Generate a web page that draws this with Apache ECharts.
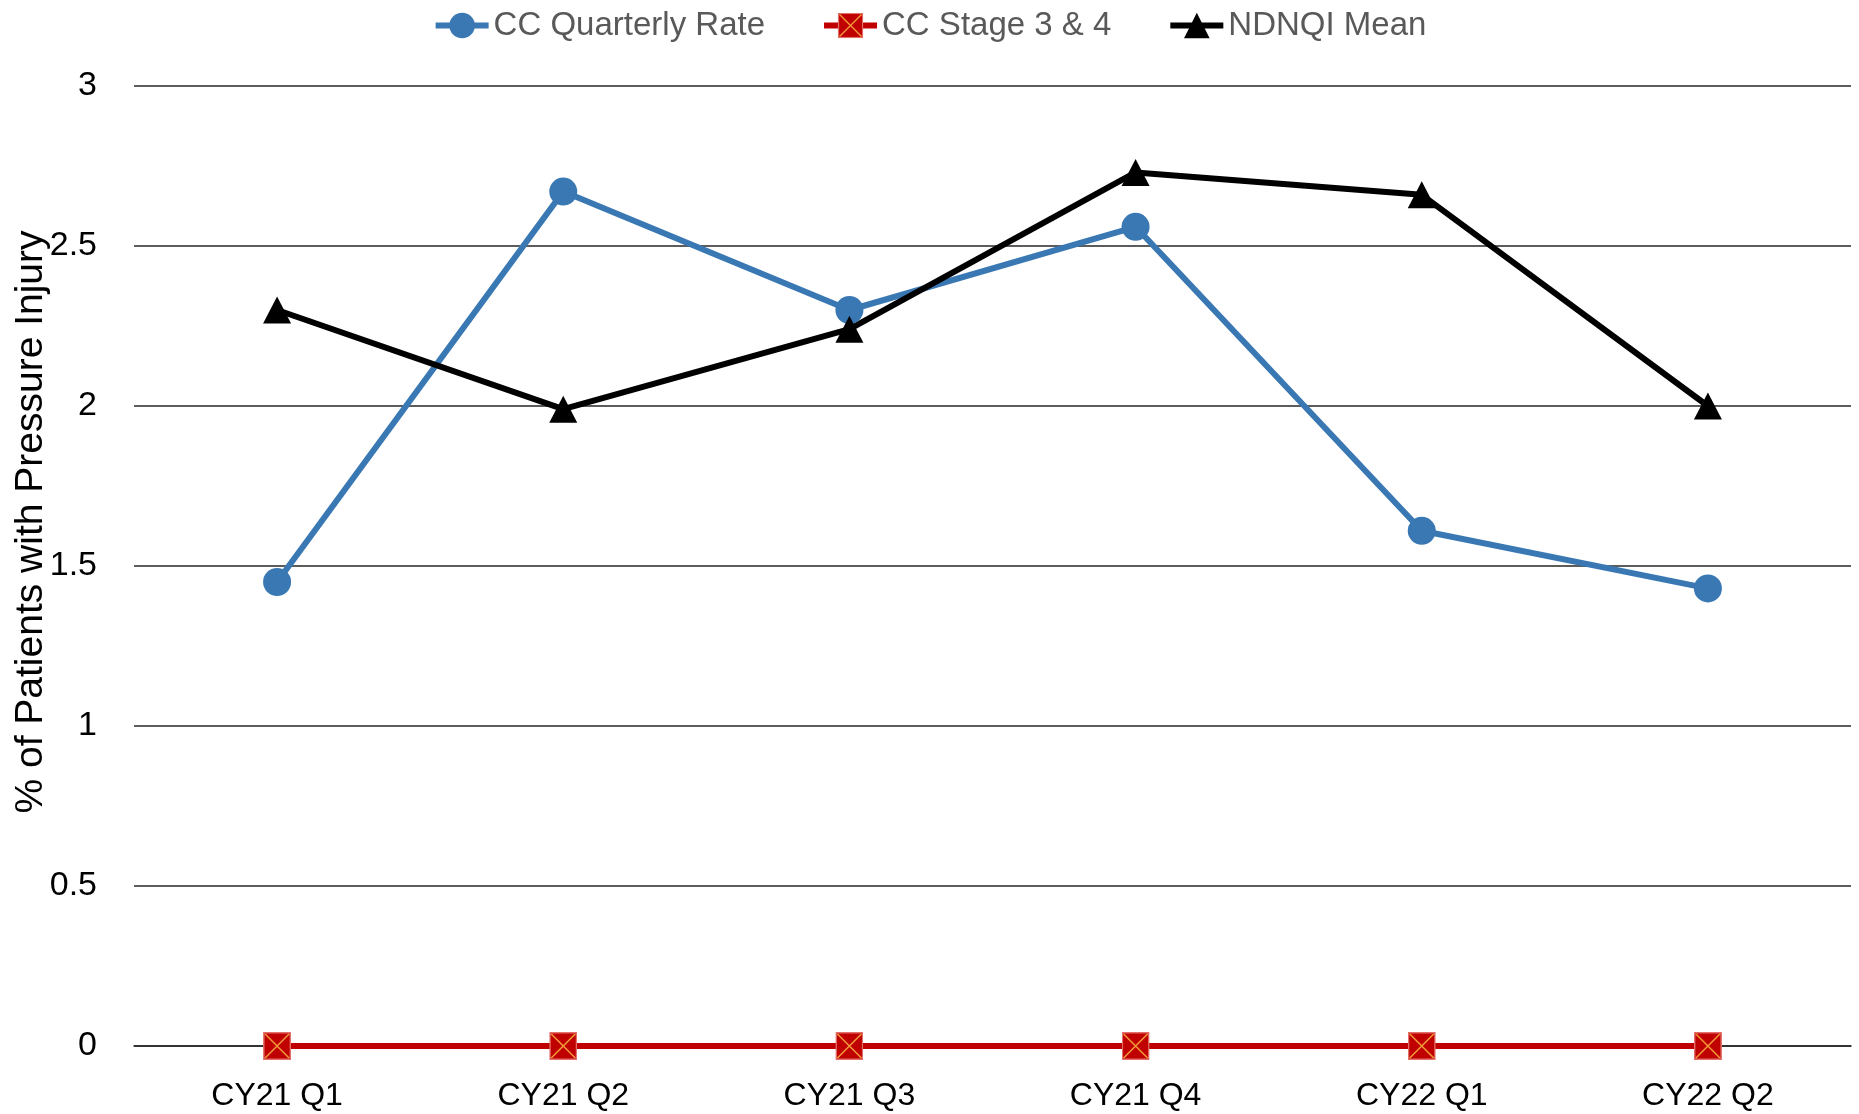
<!DOCTYPE html>
<html>
<head>
<meta charset="utf-8">
<script src="https://cdn.jsdelivr.net/npm/echarts@6/dist/echarts.min.js"></script>
<style>html,body{margin:0;padding:0;background:#fff}#c{width:1859px;height:1114px}</style>
</head>
<body>
<div id="c"></div>
<script>
const categories = ['CY21 Q1', 'CY21 Q2', 'CY21 Q3', 'CY21 Q4', 'CY22 Q1', 'CY22 Q2'];
const ccQuarterly = [1.45, 2.67, 2.30, 2.56, 1.61, 1.43];
const ccStage34 = [0, 0, 0, 0, 0, 0];
const ndnqiMean = [2.30, 1.99, 2.24, 2.73, 2.66, 2.00];
const yTicks = [0, 0.5, 1, 1.5, 2, 2.5, 3];

const FONT = '"Liberation Sans", Arial, sans-serif';
const svg = '<svg xmlns="http://www.w3.org/2000/svg" width="28" height="28" viewBox="0 0 28 28">' +
  '<rect x="0.75" y="0.75" width="26.5" height="26.5" fill="#C00000" stroke="#E27068" stroke-width="1.5"/>' +
  '<path d="M2 2 L26 26 M26 2 L2 26" stroke="#F29A3A" stroke-width="1.5"/></svg>';
const xSymbol = 'image://data:image/svg+xml;charset=utf-8,' + encodeURIComponent(svg);

const chart = echarts.init(document.getElementById('c'), null, {renderer: 'canvas'});
chart.setOption({
  animation: false,
  backgroundColor: '#fff',
  legend: {
    top: 4, left: 'center',
    itemWidth: 53, itemHeight: 32, itemGap: 56,
    lineStyle: {width: 6},
    textStyle: {fontFamily: FONT, fontSize: 33, color: '#595959'},
    data: ['CC Quarterly Rate', 'CC Stage 3 & 4', 'NDNQI Mean']
  },
  grid: {left: 134, right: 8, top: 86, bottom: 68, containLabel: false, outerBoundsMode: 'none'},
  xAxis: {
    type: 'category', data: categories, boundaryGap: true,
    axisLine: {show: true, lineStyle: {color: '#262626', width: 1.5}},
    axisTick: {show: false},
    axisLabel: {fontFamily: FONT, fontSize: 32, color: '#000', margin: 34}
  },
  yAxis: {
    type: 'value', min: yTicks[0], max: yTicks[yTicks.length - 1], interval: 0.5,
    name: '% of Patients with Pressure Injury', nameLocation: 'middle', nameGap: 83,
    nameMoveOverlap: false,
    nameTextStyle: {fontFamily: FONT, fontSize: 39, color: '#000', padding: [0, 0, 0, 88]},
    axisLine: {show: false}, axisTick: {show: false},
    axisLabel: {fontFamily: FONT, fontSize: 34, color: '#000', margin: 37},
    splitLine: {lineStyle: {color: '#262626', width: 1.5}}
  },
  series: [
    {
      name: 'CC Quarterly Rate', type: 'line', data: ccQuarterly,
      symbol: 'circle', symbolSize: 28, color: '#3A78B4',
      lineStyle: {width: 6, color: '#3A78B4'}, itemStyle: {color: '#3A78B4'},
      emphasis: {disabled: true}
    },
    {
      name: 'CC Stage 3 & 4', type: 'line', data: ccStage34,
      symbol: xSymbol, symbolSize: 28, color: '#C00000',
      lineStyle: {width: 6, color: '#C00000'}, itemStyle: {color: '#C00000'},
      emphasis: {disabled: true}
    },
    {
      name: 'NDNQI Mean', type: 'line', data: ndnqiMean,
      symbol: 'triangle', symbolSize: [28, 27], color: '#000',
      lineStyle: {width: 6, color: '#000'}, itemStyle: {color: '#000'},
      emphasis: {disabled: true}
    }
  ]
});
</script>
</body>
</html>
